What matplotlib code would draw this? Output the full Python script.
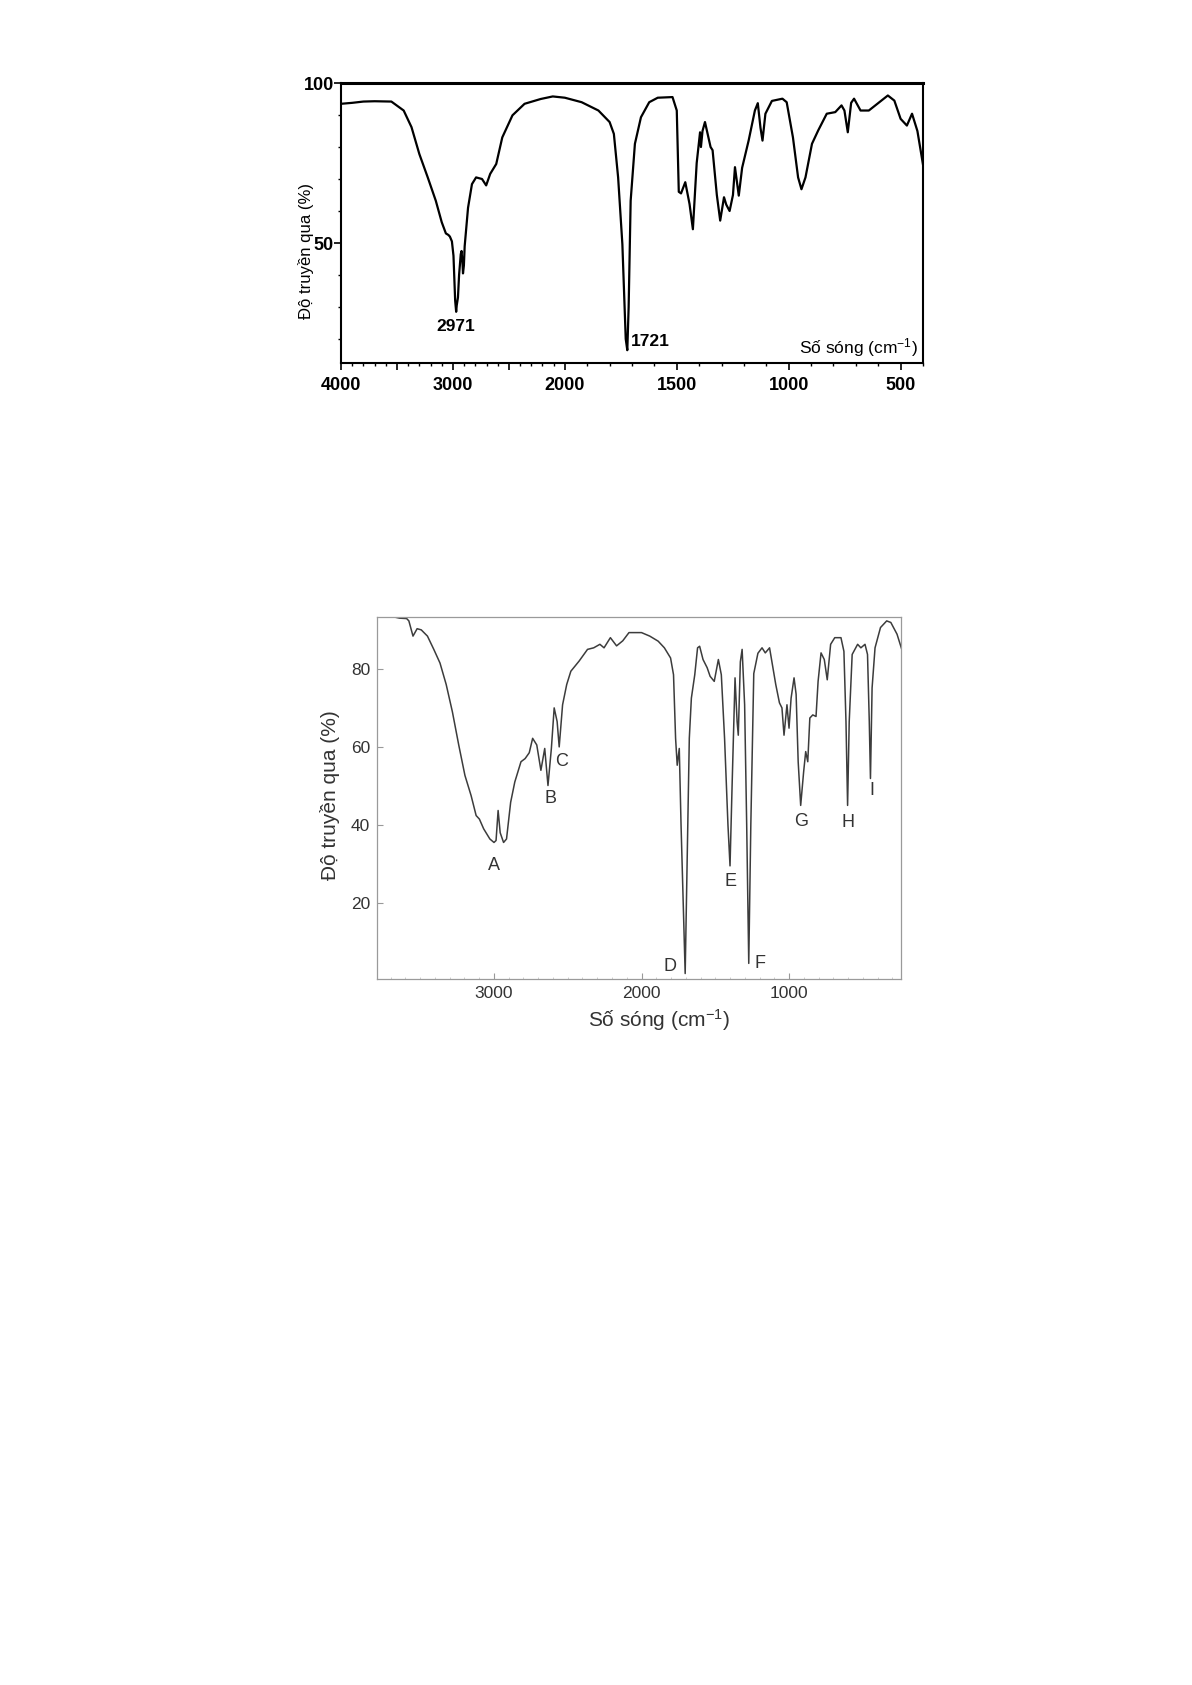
import numpy as np
import matplotlib
matplotlib.use("Agg")
import matplotlib.pyplot as plt
from matplotlib.ticker import FixedLocator, FuncFormatter, MultipleLocator

plt.rcParams['font.family'] = ['Liberation Sans', 'DejaVu Sans']
plt.rcParams['mathtext.fontset'] = 'custom'
plt.rcParams['mathtext.rm'] = 'Liberation Sans'
plt.rcParams['mathtext.it'] = 'Liberation Sans:italic'
plt.rcParams['mathtext.default'] = 'regular'

# --- Spectrum 1 (top) ---
wn1 = [4000, 3900, 3800, 3700, 3550, 3440, 3370, 3300, 3225, 3153, 3100, 3063, 3040,
       3027, 3009, 2995, 2980, 2971, 2966, 2955, 2945, 2930, 2923, 2915, 2910, 2902,
       2895, 2865, 2830, 2793, 2740, 2703, 2667, 2613, 2559, 2468, 2360, 2216, 2108,
       2000, 1925, 1850, 1800, 1781, 1762, 1743, 1728, 1721, 1715, 1706, 1687, 1660,
       1623, 1585, 1519, 1500, 1491, 1481, 1462, 1443, 1428, 1411, 1396, 1392, 1385,
       1374, 1349, 1340, 1321, 1306, 1289, 1279, 1264, 1249, 1240, 1223, 1208, 1179,
       1151, 1138, 1126, 1117, 1104, 1075, 1028, 1009, 981, 958, 943, 925, 896, 868,
       830, 792, 764, 751, 736, 721, 708, 679, 642, 604, 557, 528, 500, 472, 449, 425, 400]
t1 = [93.5, 93.8, 94.2, 94.3, 94.2, 91.4, 86.2, 77.8, 70.5, 63.2, 56.5, 53.0, 52.5,
      52.0, 50.5, 46.0, 32.0, 28.5, 30.5, 33.0, 40.0, 46.5, 47.5, 44.0, 40.5, 43.0,
      49.0, 61.0, 68.4, 70.5, 70.0, 68.0, 71.6, 74.7, 83.0, 89.9, 93.5, 95.0, 95.8,
      95.4, 94.0, 91.4, 87.8, 84.1, 70.5, 49.6, 20.0, 16.5, 30.0, 63.2, 81.0, 89.3,
      94.0, 95.4, 95.6, 91.4, 66.0, 65.5, 69.0, 62.2, 54.3, 75.0, 84.6, 80.0, 85.0,
      87.8, 80.0, 79.0, 65.0, 57.0, 64.3, 62.0, 60.0, 65.0, 73.7, 64.8, 73.5, 82.0,
      91.4, 93.7, 86.0, 82.0, 90.4, 94.4, 95.1, 94.0, 83.0, 70.5, 66.8, 70.5, 81.0, 85.2,
      90.4, 90.9, 93.0, 91.4, 84.6, 93.8, 95.1, 91.4, 91.4, 93.5, 96.1, 94.5, 88.8,
      86.7, 90.4, 85.0, 74.5]
x1_major = [4000, 3500, 3000, 2500, 2000, 1500, 1000, 500]
x1_labeled = [4000, 3000, 2000, 1500, 1000, 500]
peak1_text = ['2971', '1721']
peak1_wn = [2973, 1619]
peak1_t = [24.0, 19.3]

# --- Spectrum 2 (bottom) ---
wn2 = [3817, 3700, 3640, 3592, 3577, 3549, 3521, 3493, 3451, 3408, 3366, 3324, 3282,
       3239, 3197, 3155, 3121, 3099, 3070, 3028, 3000, 2986, 2972, 2958, 2935, 2915,
       2887, 2859, 2817, 2789, 2761, 2738, 2710, 2682, 2656, 2634, 2611, 2592, 2572,
       2558, 2535, 2507, 2479, 2423, 2366, 2324, 2282, 2254, 2211, 2169, 2127, 2085,
       2000, 1944, 1887, 1845, 1803, 1783, 1769, 1758, 1744, 1732, 1713, 1704, 1690,
       1676, 1662, 1639, 1620, 1606, 1583, 1555, 1535, 1507, 1479, 1459, 1437, 1414,
       1400, 1386, 1366, 1352, 1344, 1330, 1318, 1301, 1287, 1273, 1259, 1239, 1211,
       1183, 1161, 1132, 1113, 1090, 1065, 1048, 1034, 1014, 1000, 986, 966, 952, 938,
       921, 901, 887, 873, 859, 839, 817, 803, 783, 761, 741, 718, 690, 648, 628, 614,
       603, 592, 572, 535, 513, 485, 468, 456, 448, 437, 417, 380, 338, 310, 268, 225, 206]
t2 = [93.3, 93.5, 93.0, 92.9, 92.3, 88.4, 90.3, 90.0, 88.4, 85.0, 81.5, 76.0, 69.0,
      60.5, 52.7, 47.5, 42.4, 41.5, 39.0, 36.4, 35.5, 36.0, 43.7, 38.0, 35.5, 36.4,
      45.8, 51.0, 56.2, 57.0, 58.5, 62.2, 60.5, 54.0, 59.6, 50.1, 59.6, 70.0, 66.5,
      60.0, 70.8, 76.0, 79.4, 82.0, 85.0, 85.4, 86.3, 85.4, 88.0, 85.9, 87.2, 89.3,
      89.3, 88.4, 87.1, 85.4, 82.8, 78.5, 62.2, 55.3, 59.6, 40.0, 14.0, 1.9, 32.0,
      62.2, 72.5, 78.5, 85.4, 85.8, 82.4, 80.3, 78.1, 76.8, 82.4, 78.5, 62.2, 40.0,
      29.5, 50.0, 77.7, 66.5, 63.0, 81.8, 85.0, 70.8, 40.0, 4.5, 40.0, 78.8, 84.0,
      85.4, 84.1, 85.4, 81.1, 76.0, 71.3, 70.0, 63.0, 70.8, 64.8, 72.5, 77.7, 73.5, 56.2,
      45.0, 53.6, 58.8, 56.2, 67.4, 68.2, 67.8, 76.8, 84.1, 82.4, 77.2, 86.3, 88.0, 88.0, 84.5, 66.5,
      45.0, 66.5, 83.7, 86.3, 85.4, 86.3, 83.7, 66.5, 51.9, 75.1, 85.4, 90.6, 92.3, 91.9, 88.9, 83.7, 82.4]
peak2_text = ['A', 'B', 'C', 'D', 'E', 'F', 'G', 'H', 'I']
peak2_wn = [3000, 2620, 2541, 1808, 1394, 1197, 915, 600, 441]
peak2_t = [29.5, 46.7, 56.2, 3.6, 25.6, 4.5, 41.0, 40.7, 48.8]


def fwd(x):
    x = np.asarray(x, dtype=float)
    return np.where(x >= 2000, x, 2 * x - 2000)


def inv(u):
    u = np.asarray(u, dtype=float)
    return np.where(u >= 2000, u, (u + 2000) / 2)


W, H = 1192, 1685
fig = plt.figure(figsize=(W / 100, H / 100), dpi=100)

# ---------- top chart ----------
ax1 = fig.add_axes([341 / W, 1 - 363 / H, 582 / W, 280 / H])
ax1.set_xscale('function', functions=(fwd, inv))
ax1.plot(wn1, t1, color='black', linewidth=1.6)
ax1.set_xlim(4000, 400)
ax1.set_ylim(12.5, 100)
ax1.xaxis.set_major_locator(FixedLocator(x1_major))
ax1.xaxis.set_minor_locator(FixedLocator(np.arange(400, 4001, 100)))
ax1.xaxis.set_major_formatter(FuncFormatter(
    lambda v, p: f"{int(round(v))}" if int(round(v)) in x1_labeled else ""))
ax1.yaxis.set_major_locator(FixedLocator([50, 100]))
ax1.yaxis.set_minor_locator(FixedLocator(np.arange(20, 100, 10)))
ax1.tick_params(axis='both', which='major', direction='out', length=5, width=1.2,
                labelsize=13, pad=5)
ax1.tick_params(axis='both', which='minor', direction='out', length=2.5, width=1.0)
ax1.tick_params(axis='y', which='major', pad=0)
for lab in ax1.get_xticklabels() + ax1.get_yticklabels():
    lab.set_fontweight('bold')
for s in ax1.spines.values():
    s.set_linewidth(1.5)
ax1.spines['top'].set_linewidth(2.2)
ax1.text(-0.060, 0.40, 'Độ truyền qua (%)', transform=ax1.transAxes, rotation=90,
         ha='center', va='center', fontsize=12)
ax1.text(0.991, 0.054, 'Số sóng (cm$^{-1}$)', transform=ax1.transAxes,
         ha='right', va='center', fontsize=12.5)
for txt, x, y in zip(peak1_text, peak1_wn, peak1_t):
    ax1.text(x, y, txt, ha='center', va='center', fontsize=12.5, fontweight='bold')

# ---------- bottom chart ----------
gray = '#3c3c3c'
ax2 = fig.add_axes([377 / W, 1 - 979 / H, 524 / W, 362 / H])
ax2.plot(wn2, t2, color=gray, linewidth=1.1)
ax2.set_xlim(3793, 241)
ax2.set_ylim(0.5, 93.3)
ax2.xaxis.set_major_locator(FixedLocator([3000, 2000, 1000]))
ax2.xaxis.set_minor_locator(MultipleLocator(100))
ax2.yaxis.set_major_locator(FixedLocator([20, 40, 60, 80]))
ax2.tick_params(axis='both', which='major', direction='in', length=4, width=0.8,
                color='#999999', labelsize=12.5, labelcolor='#333333', pad=5)
ax2.tick_params(axis='both', which='minor', direction='in', length=1.5, width=0.5,
                color='#bbbbbb')
ax2.tick_params(axis='y', which='minor', left=False)
for s in ax2.spines.values():
    s.set_linewidth(0.9)
    s.set_color('#9a9a9a')
ax2.text(-0.090, 0.508, 'Độ truyền qua (%)', transform=ax2.transAxes, rotation=90,
         ha='center', va='center', fontsize=15, color='#333333')
ax2.text(0.538, -0.113, 'Số sóng (cm$^{-1}$)', transform=ax2.transAxes,
         ha='center', va='center', fontsize=15, color='#333333')
for txt, x, y in zip(peak2_text, peak2_wn, peak2_t):
    ax2.text(x, y, txt, ha='center', va='center', fontsize=13, color='#333333')

fig.savefig('out.png', dpi=100)
